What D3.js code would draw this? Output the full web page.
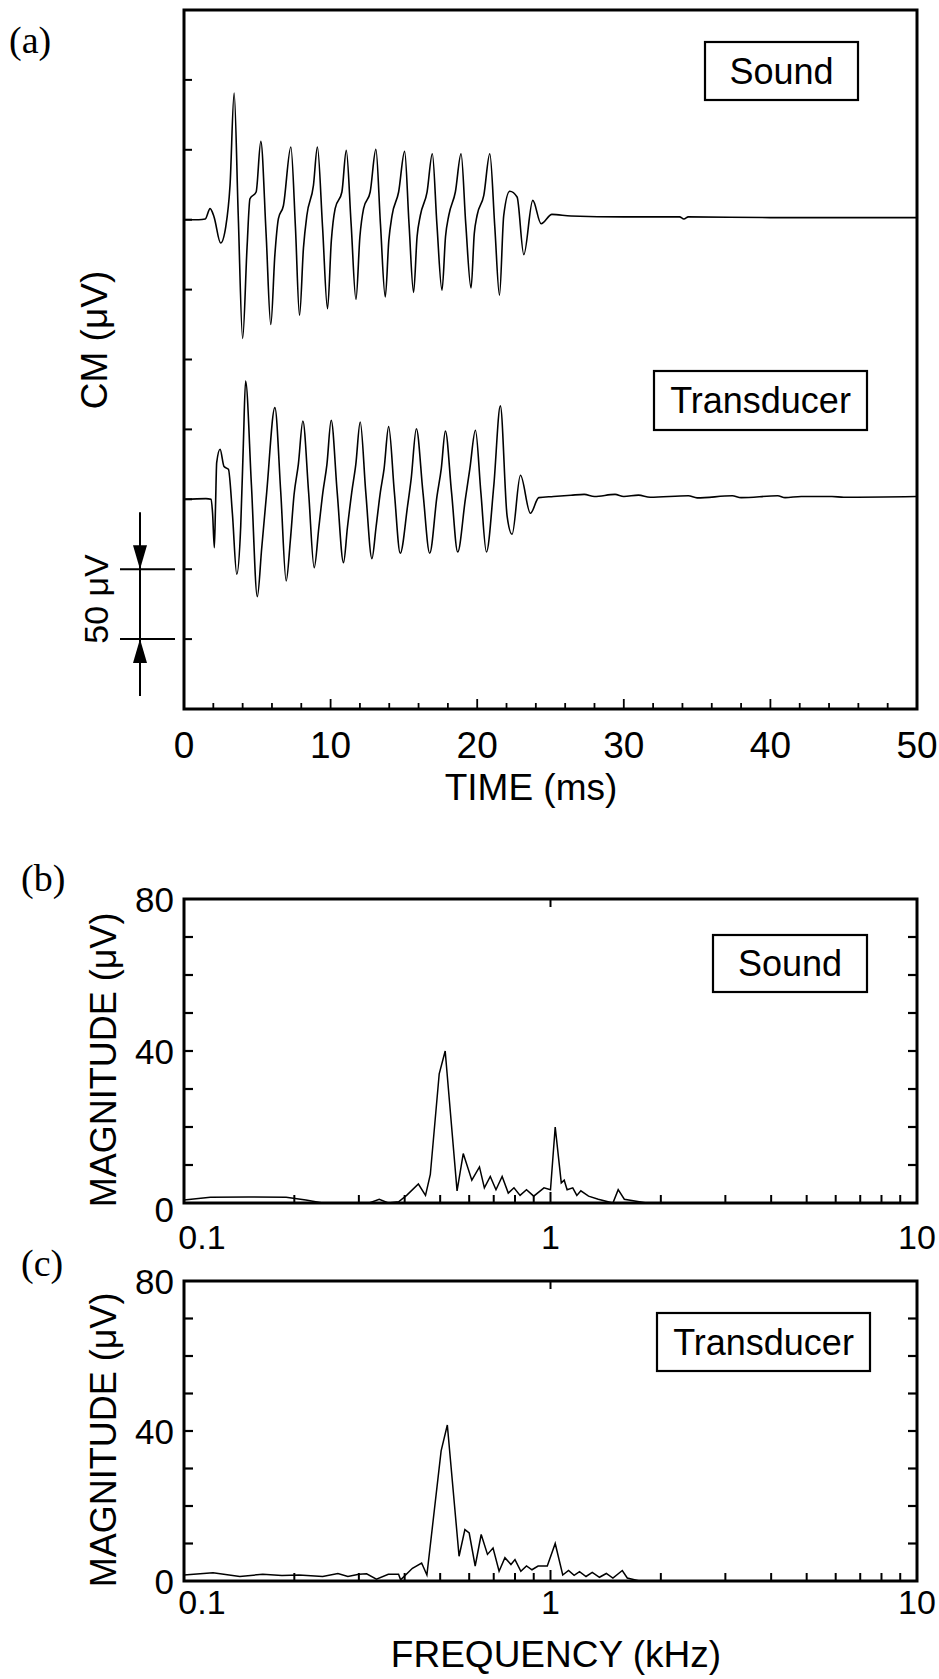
<!DOCTYPE html>
<html><head><meta charset="utf-8">
<script src="https://cdn.jsdelivr.net/npm/d3@7"></script>
<style>
body{margin:0;background:#fff}
svg{display:block}
text{font-family:"Liberation Sans",Arial,Helvetica,sans-serif;fill:#000}
</style>
</head><body>
<svg id="chart" width="939" height="1679"></svg>
<script>
// ---------- DATA ----------
// Panel (a): cochlear microphonic vs time (ms), values in µV relative to each trace's baseline
const soundTime = [0,1.0,1.45,1.78,2.05,2.5,2.85,3.14,3.42,3.7,4.0,4.3,4.5,4.92,5.24,5.6,5.92,6.2,6.44,6.78,7.29,7.6,7.88,8.15,8.38,8.83,9.1,9.45,9.79,10.05,10.31,10.77,11.07,11.4,11.73,12.0,12.25,12.7,13.09,13.4,13.73,13.97,14.19,14.64,15.05,15.35,15.66,15.9,16.12,16.58,16.94,17.25,17.6,17.84,18.06,18.51,18.9,19.22,19.58,19.8,19.99,20.45,20.86,21.2,21.52,21.81,22.22,22.72,23.18,23.79,24.36,25.1,26.4,30,33.8,34.1,34.4,40,45,50];
const soundCM   = [0,0,0.5,7.9,2,-16.7,-5,24.6,90.6,3,-85,-20,15,19.8,56,-10,-75,-25,0.7,10,52,-5,-68.4,-20,3,24.6,52,-5,-63.7,-15,7.9,19.8,49.6,-3,-57,-12,7.9,19.8,50.3,-3,-55.3,-15,3,19.8,48.9,-3,-52,-12,3,19.8,47.2,-3,-50.5,-12,3,19.8,47.2,-3,-48.9,-10,3,17.4,47.2,-5,-54,3,20.3,16.2,-25,13.8,-2.9,3.8,2.6,2,2,0.5,2,1.5,1.5,1.5];
const transTime = [0,1.5,1.85,1.95,2.07,2.15,2.23,2.46,2.73,3.03,3.3,3.6,3.87,4.05,4.2,4.6,5.0,5.3,5.64,6.2,6.6,6.97,7.25,7.51,7.8,8.11,8.5,8.88,9.2,9.47,9.75,10.04,10.45,10.88,11.15,11.44,11.72,12.02,12.4,12.82,13.1,13.39,13.65,13.96,14.35,14.75,15.25,15.5,15.85,16.3,16.76,17.26,17.55,17.83,18.25,18.67,19.19,19.5,19.88,20.25,20.63,21.13,21.58,22.04,22.38,22.95,23.63,24.2,25.2,26.4,27.3,28.0,29.4,30.0,31.0,31.8,34.4,35.0,37.4,38.0,40.5,41.0,42.1,44.2,45.0,50];
const transCM   = [0,0.5,0,-10,-34.6,-5,26.2,35.8,23.4,21.5,-10,-53.6,-19,40,84.6,10,-69.6,-35,4.8,65.6,5,-58.4,-30,3.6,25,56,5,-48.9,-20,4.8,25,56.5,5,-45.3,-20,4.8,25,55.3,5,-42.4,-20,4.8,22,52,5,-38.6,-4.8,15,50.5,5,-38.6,2.4,22,48.9,5,-37.7,0,22,49.4,5,-37.7,9.5,66.8,-12,-25,17.2,-10,1.2,2,2.9,3.5,2,3.5,2,3,1.5,2.5,1,2.5,1.2,2.5,1.2,2,2,1.5,2];
const traceOffsets = [350, 150];            // µV baselines of Sound / Transducer traces
const timeTickLabels = [0,10,20,30,40,50];

// Panels (b),(c): magnitude spectra, frequency in kHz, magnitude in µV
const soundFreq = [0.1,0.118,0.15,0.19,0.215,0.239,0.32,0.341,0.361,0.385,0.405,0.436,0.456,0.47,0.497,0.516,0.556,0.578,0.61,0.64,0.66,0.685,0.71,0.738,0.767,0.795,0.826,0.86,0.9,0.96,1.0,1.03,1.07,1.09,1.11,1.15,1.18,1.21,1.27,1.35,1.48,1.53,1.59,1.83,10];
const soundMag  = [0.8,1.5,1.6,1.5,0.8,0,0,1,0,0.3,2,5,2,7.5,34,40,3.2,13,6,9.5,4,7,3.5,7,2.6,4,2,3.5,1.8,4,3.5,20,5.3,6,3.5,4,2,3.2,1.8,1,0,3.5,1,0,0];
const transFreq = [0.1,0.12,0.142,0.164,0.185,0.206,0.239,0.263,0.28,0.3,0.315,0.335,0.361,0.385,0.39,0.42,0.445,0.46,0.503,0.523,0.563,0.584,0.6,0.623,0.647,0.673,0.697,0.724,0.751,0.78,0.8,0.83,0.86,0.89,0.925,0.98,1.03,1.08,1.12,1.16,1.2,1.25,1.3,1.36,1.42,1.48,1.57,1.62,1.75,10];
const transMag  = [1.6,2.2,1.2,1.8,1.5,1.6,1.2,2,1.2,1.8,1.9,0.5,1.8,1.8,0.3,3.4,4.8,1.6,34.7,41.6,6.6,13.7,12.8,4,12.4,7.1,8.8,2.6,6.2,4.4,5.7,2.6,4,3,4,4,10,1.6,2.8,1.5,2.5,1.2,2.3,1,2,0.8,2.8,0.8,0,0];
const freqTickLabels = ["0.1","1","10"];
const magTickLabels = [0,40,80];

// ---------- DRAWING ----------
const svg = d3.select("#chart");
const FONT = 36;

function frame(p){
  svg.append("rect").attr("x",p.left).attr("y",p.top)
    .attr("width",p.right-p.left).attr("height",p.bottom-p.top)
    .attr("fill","none").attr("stroke","#000").attr("stroke-width",3);
}
function tick(x1,y1,x2,y2,w){
  svg.append("line").attr("x1",x1).attr("y1",y1).attr("x2",x2).attr("y2",y2)
    .attr("stroke","#000").attr("stroke-width",w||2);
}
function legendBox(x0,y0,x1,y1,label){
  svg.append("rect").attr("x",x0).attr("y",y0).attr("width",x1-x0).attr("height",y1-y0)
    .attr("fill","#fff").attr("stroke","#000").attr("stroke-width",2.2);
  svg.append("text").attr("x",(x0+x1)/2).attr("y",(y0+y1)/2).attr("dy","0.36em")
    .attr("text-anchor","middle").attr("font-size",FONT).text(label);
}
function rotLabel(x,y,label,size){
  svg.append("text").attr("transform",`translate(${x},${y}) rotate(-90)`)
    .attr("text-anchor","middle").attr("font-size",size).text(label);
}
function panelLetter(x,y,label){
  svg.append("text").attr("x",x).attr("y",y).attr("font-size",38)
    .style("font-family","'Liberation Serif','Times New Roman',serif").text(label);
}

// ----- Panel (a) -----
const pA = {left:184,right:917,top:10,bottom:709};
const xA = d3.scaleLinear().domain([0,50]).range([pA.left,pA.right]);
const yA = d3.scaleLinear().domain([0,500]).range([pA.bottom,pA.top]);

const lineA = d3.line().x(d=>xA(d[0])).y(d=>yA(d[1])).curve(d3.curveMonotoneX);
const soundPts = soundTime.map((t,i)=>[t, traceOffsets[0]+soundCM[i]]);
const transPts = transTime.map((t,i)=>[t, traceOffsets[1]+transCM[i]]);
[soundPts, transPts].forEach(pts=>{
  svg.append("path").datum(pts).attr("d",lineA)
    .attr("fill","none").attr("stroke","#000").attr("stroke-width",1.6);
});

// y ticks (every 50 µV, inward)
yA.ticks(10).filter(v=>v>0 && v<500).forEach(v=>tick(pA.left, yA(v), pA.left+8, yA(v), 2));
// x ticks (every 2 ms minor, 10 ms major)
xA.ticks(25).forEach(v=>{
  const major = timeTickLabels.includes(v);
  if (v>0 && v<50) tick(xA(v), pA.bottom, xA(v), pA.bottom-(major?10:6), 1.8);
});
frame(pA);
timeTickLabels.forEach(v=>{
  svg.append("text").attr("x",xA(v)).attr("y",758).attr("text-anchor","middle")
    .attr("font-size",37).text(v);
});
svg.append("text").attr("x",531).attr("y",800).attr("text-anchor","middle")
  .attr("font-size",37).text("TIME (ms)");
rotLabel(107,340,"CM (\u03bcV)",37);

legendBox(705,42,858,100,"Sound");
legendBox(654,371,867,430,"Transducer");

// 50 µV scale bar
const sbX = 140;
tick(120, yA(100), 175, yA(100), 2);
tick(120, yA(50), 175, yA(50), 2);
tick(sbX, yA(100)-57, sbX, yA(50)+57, 2);
svg.append("path").attr("d",`M${sbX-7},${yA(100)-24}L${sbX+7},${yA(100)-24}L${sbX},${yA(100)}Z`).attr("fill","#000");
svg.append("path").attr("d",`M${sbX-7},${yA(50)+24}L${sbX+7},${yA(50)+24}L${sbX},${yA(50)}Z`).attr("fill","#000");
rotLabel(108,599,"50 \u03bcV",34);

panelLetter(9,53,"(a)");

// ----- Panels (b) and (c) -----
function spectrumPanel(p, freq, mag, legendRect, legendText, xLabelBaseline, zeroDy){
  const x = d3.scaleLog().domain([0.1,10]).range([p.left,p.right]);
  const y = d3.scaleLinear().domain([0,80]).range([p.bottom,p.top]);
  const line = d3.line().x(d=>x(d[0])).y(d=>y(d[1]));
  svg.append("path").datum(freq.map((f,i)=>[f,mag[i]])).attr("d",line)
    .attr("fill","none").attr("stroke","#000").attr("stroke-width",1.5);
  // y ticks both sides every 10 µV
  y.ticks(8).filter(v=>v>0 && v<80).forEach(v=>{
    tick(p.left, y(v), p.left+9, y(v), 2.2);
    tick(p.right, y(v), p.right-9, y(v), 2.2);
  });
  // x log ticks
  x.ticks().forEach(v=>{
    if (v<=0.1 || v>=10) return;
    const major = Math.abs(Math.log10(v)-Math.round(Math.log10(v)))<1e-6;
    tick(x(v), p.bottom, x(v), p.bottom-(major?11:8), 2);
    if (major) tick(x(v), p.top, x(v), p.top+8, 2);
  });
  frame(p);
  magTickLabels.forEach(v=>{
    svg.append("text").attr("x",p.left-10).attr("y",y(v)+(v===0?zeroDy:0)).attr("dy","0.36em")
      .attr("text-anchor","end").attr("font-size",35).text(v);
  });
  freqTickLabels.forEach((s,i)=>{
    svg.append("text").attr("x",x(+s)+(i===0?18:0)).attr("y",xLabelBaseline)
      .attr("text-anchor","middle").attr("font-size",34).text(s);
  });
  legendBox(legendRect[0],legendRect[1],legendRect[2],legendRect[3],legendText);
  rotLabel(116,(p.top+p.bottom)/2+9,"MAGNITUDE (\u03bcV)",36);
}

const pB = {left:184,right:917,top:899,bottom:1203};
const pC = {left:184,right:917,top:1281,bottom:1581};
spectrumPanel(pB, soundFreq, soundMag, [713,935,867,992], "Sound", 1249, 6);
spectrumPanel(pC, transFreq, transMag, [657,1313,870,1371], "Transducer", 1614, 0);
panelLetter(21,891,"(b)");
panelLetter(21,1276,"(c)");
svg.append("text").attr("x",556).attr("y",1667).attr("text-anchor","middle")
  .attr("font-size",37).text("FREQUENCY (kHz)");
</script>
</body></html>
